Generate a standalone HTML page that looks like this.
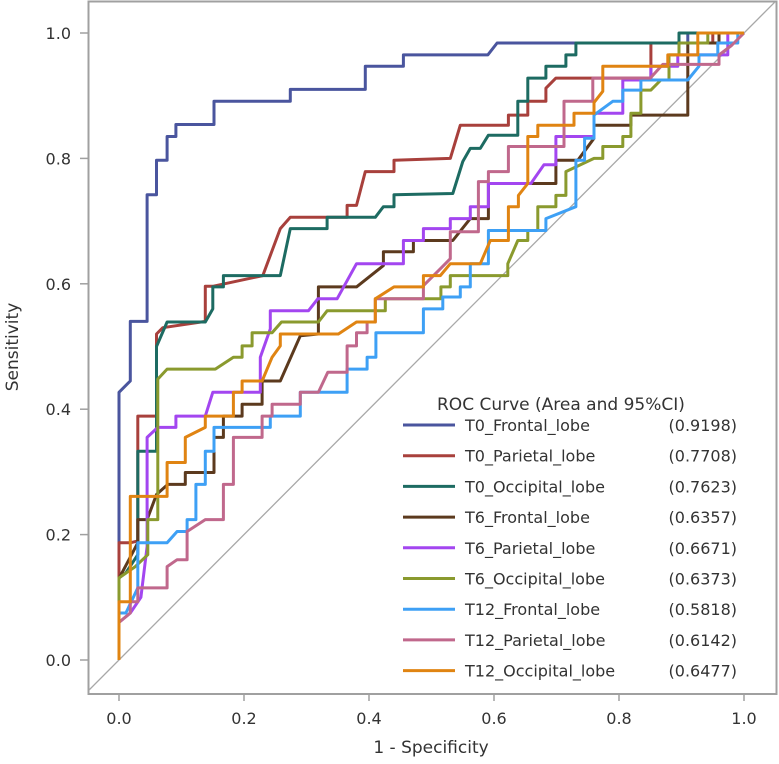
<!DOCTYPE html>
<html><head><meta charset="utf-8"><style>
html,body{margin:0;padding:0;background:#fff;}
svg{display:block;font-family:"DejaVu Sans","Liberation Sans",sans-serif;}
</style></head><body>
<svg id="chart" width="779" height="764" viewBox="0 0 779 764" xmlns="http://www.w3.org/2000/svg">
<g id="axes"></g>
<g id="series"></g>
<g id="legend"></g>
</svg>
<script>
const xTicks=[0,0.2,0.4,0.6,0.8,1.0];
const yTicks=[0,0.2,0.4,0.6,0.8,1.0];
const tickLabels=["0.0","0.2","0.4","0.6","0.8","1.0"];
const seriesNames=["T0_Frontal_lobe","T0_Parietal_lobe","T0_Occipital_lobe","T6_Frontal_lobe","T6_Parietal_lobe","T6_Occipital_lobe","T12_Frontal_lobe","T12_Parietal_lobe","T12_Occipital_lobe"];
const aucValues=["0.9198","0.7708","0.7623","0.6357","0.6671","0.6373","0.5818","0.6142","0.6477"];
const seriesColors=["#4a559e","#a8403c","#1d6b62","#5c3a1e","#a346f0","#8a9a2e","#3ea0f5","#c0688c","#e08412"];
const t0Frontal=[[0,0],[0,0.427],[0.018,0.445],[0.018,0.54],[0.045,0.54],[0.045,0.742],[0.06,0.742],[0.06,0.797],[0.077,0.797],[0.077,0.835],[0.091,0.835],[0.091,0.854],[0.152,0.854],[0.152,0.891],[0.274,0.891],[0.274,0.91],[0.394,0.91],[0.394,0.947],[0.455,0.947],[0.455,0.965],[0.59,0.965],[0.605,0.984],[0.91,0.984],[0.91,1],[1,1]];
const t0Parietal=[[0,0],[0,0.187],[0.018,0.187],[0.03,0.19],[0.03,0.389],[0.058,0.389],[0.06,0.389],[0.06,0.52],[0.07,0.53],[0.138,0.54],[0.138,0.596],[0.15,0.596],[0.23,0.613],[0.245,0.653],[0.258,0.688],[0.274,0.706],[0.365,0.706],[0.365,0.725],[0.38,0.725],[0.394,0.779],[0.44,0.779],[0.44,0.797],[0.53,0.8],[0.546,0.853],[0.623,0.853],[0.623,0.869],[0.654,0.869],[0.654,0.891],[0.683,0.891],[0.683,0.912],[0.699,0.928],[0.851,0.928],[0.851,0.984],[0.95,0.984],[0.95,1],[1,1]];
const t0Occipital=[[0,0],[0,0.131],[0.011,0.139],[0.03,0.168],[0.03,0.333],[0.06,0.333],[0.06,0.5],[0.077,0.539],[0.138,0.539],[0.15,0.56],[0.15,0.595],[0.167,0.595],[0.167,0.613],[0.258,0.613],[0.274,0.688],[0.333,0.688],[0.333,0.706],[0.41,0.706],[0.423,0.723],[0.44,0.723],[0.44,0.742],[0.534,0.744],[0.55,0.795],[0.562,0.816],[0.578,0.816],[0.591,0.837],[0.638,0.837],[0.638,0.891],[0.654,0.891],[0.654,0.928],[0.683,0.928],[0.683,0.947],[0.715,0.947],[0.715,0.965],[0.731,0.965],[0.731,0.984],[0.896,0.984],[0.896,1],[1,1]];
const t6Frontal=[[0,0],[0,0.13],[0.03,0.187],[0.03,0.224],[0.045,0.224],[0.06,0.264],[0.078,0.28],[0.106,0.28],[0.106,0.299],[0.152,0.299],[0.152,0.355],[0.167,0.355],[0.167,0.389],[0.197,0.389],[0.197,0.408],[0.229,0.408],[0.229,0.445],[0.258,0.445],[0.29,0.517],[0.319,0.52],[0.319,0.595],[0.38,0.595],[0.423,0.629],[0.423,0.651],[0.471,0.651],[0.471,0.669],[0.534,0.669],[0.562,0.704],[0.591,0.704],[0.591,0.76],[0.699,0.76],[0.699,0.797],[0.734,0.797],[0.76,0.832],[0.76,0.853],[0.819,0.853],[0.819,0.869],[0.91,0.869],[0.91,0.984],[0.96,0.984],[0.96,1],[1,1]];
const t6Parietal=[[0,0],[0,0.06],[0.018,0.075],[0.035,0.1],[0.045,0.181],[0.045,0.355],[0.062,0.371],[0.091,0.371],[0.091,0.389],[0.138,0.389],[0.15,0.427],[0.226,0.427],[0.226,0.483],[0.242,0.528],[0.242,0.557],[0.303,0.557],[0.318,0.576],[0.349,0.576],[0.38,0.632],[0.455,0.632],[0.455,0.669],[0.487,0.669],[0.487,0.688],[0.53,0.688],[0.53,0.704],[0.562,0.704],[0.562,0.723],[0.591,0.723],[0.591,0.76],[0.659,0.76],[0.68,0.79],[0.699,0.79],[0.699,0.835],[0.76,0.835],[0.76,0.872],[0.806,0.872],[0.806,0.925],[0.851,0.925],[0.851,0.947],[0.894,0.947],[0.894,0.965],[0.974,0.965],[0.974,1],[1,1]];
const t6Occipital=[[0,0],[0,0.131],[0.026,0.149],[0.046,0.168],[0.046,0.224],[0.062,0.224],[0.062,0.448],[0.077,0.464],[0.154,0.464],[0.183,0.483],[0.197,0.483],[0.197,0.501],[0.213,0.501],[0.213,0.522],[0.245,0.522],[0.26,0.539],[0.319,0.539],[0.333,0.557],[0.426,0.557],[0.426,0.576],[0.515,0.576],[0.515,0.595],[0.53,0.595],[0.53,0.613],[0.622,0.613],[0.622,0.632],[0.638,0.669],[0.654,0.669],[0.654,0.685],[0.67,0.685],[0.67,0.723],[0.699,0.723],[0.699,0.741],[0.715,0.741],[0.715,0.779],[0.76,0.8],[0.774,0.8],[0.774,0.819],[0.806,0.819],[0.806,0.835],[0.819,0.835],[0.819,0.872],[0.835,0.872],[0.835,0.909],[0.851,0.909],[0.867,0.925],[0.88,0.925],[0.88,0.965],[0.896,0.965],[0.896,0.984],[0.942,0.984],[0.942,1],[1,1]];
const t12Frontal=[[0,0],[0,0.075],[0.011,0.075],[0.03,0.115],[0.03,0.187],[0.077,0.187],[0.093,0.205],[0.109,0.205],[0.109,0.224],[0.123,0.224],[0.123,0.28],[0.138,0.28],[0.138,0.333],[0.152,0.333],[0.152,0.371],[0.242,0.371],[0.242,0.389],[0.29,0.389],[0.29,0.427],[0.365,0.427],[0.365,0.464],[0.397,0.464],[0.397,0.483],[0.411,0.483],[0.411,0.522],[0.487,0.522],[0.487,0.56],[0.518,0.56],[0.518,0.579],[0.546,0.579],[0.546,0.595],[0.562,0.595],[0.562,0.632],[0.591,0.632],[0.591,0.685],[0.683,0.685],[0.683,0.704],[0.731,0.723],[0.731,0.797],[0.745,0.797],[0.745,0.832],[0.76,0.832],[0.76,0.869],[0.79,0.891],[0.806,0.891],[0.806,0.909],[0.835,0.909],[0.835,0.925],[0.91,0.925],[0.928,0.947],[0.928,0.965],[0.958,0.965],[0.958,0.984],[0.99,0.984],[0.99,1],[1,1]];
const t12Parietal=[[0,0],[0,0.06],[0.018,0.075],[0.018,0.093],[0.03,0.093],[0.03,0.115],[0.077,0.115],[0.077,0.149],[0.093,0.16],[0.109,0.16],[0.109,0.205],[0.138,0.224],[0.167,0.224],[0.167,0.28],[0.183,0.28],[0.183,0.355],[0.229,0.355],[0.229,0.389],[0.245,0.389],[0.245,0.408],[0.29,0.408],[0.29,0.427],[0.319,0.427],[0.334,0.459],[0.365,0.459],[0.365,0.501],[0.38,0.501],[0.38,0.522],[0.397,0.522],[0.397,0.539],[0.41,0.539],[0.41,0.576],[0.487,0.576],[0.487,0.597],[0.514,0.624],[0.53,0.64],[0.53,0.683],[0.575,0.683],[0.575,0.763],[0.591,0.763],[0.591,0.779],[0.623,0.779],[0.623,0.819],[0.712,0.819],[0.712,0.891],[0.758,0.891],[0.758,0.928],[0.85,0.928],[0.87,0.95],[0.96,0.95],[0.96,0.965],[0.98,0.98],[1,1]];
const t12Occipital=[[0,0],[0,0.093],[0.018,0.093],[0.018,0.261],[0.077,0.261],[0.077,0.315],[0.106,0.315],[0.106,0.355],[0.138,0.371],[0.138,0.389],[0.183,0.389],[0.183,0.427],[0.197,0.427],[0.197,0.445],[0.229,0.445],[0.245,0.483],[0.258,0.501],[0.258,0.52],[0.351,0.52],[0.38,0.539],[0.41,0.539],[0.41,0.576],[0.44,0.595],[0.487,0.595],[0.487,0.613],[0.514,0.613],[0.53,0.632],[0.578,0.632],[0.594,0.669],[0.623,0.669],[0.623,0.723],[0.639,0.723],[0.639,0.741],[0.654,0.76],[0.654,0.835],[0.67,0.835],[0.67,0.853],[0.728,0.853],[0.728,0.872],[0.76,0.872],[0.76,0.889],[0.774,0.907],[0.774,0.947],[0.878,0.947],[0.878,0.965],[0.926,0.965],[0.926,1],[1,1]];
const allSeries=[t0Frontal,t0Parietal,t0Occipital,t6Frontal,t6Parietal,t6Occipital,t12Frontal,t12Parietal,t12Occipital];

const X0=119,XW=625,Y0=660,YH=627;
function sx(v){return X0+v*XW;}
function sy(v){return Y0-v*YH;}
const NS="http://www.w3.org/2000/svg";
function mk(tag,attrs,parent){const e=document.createElementNS(NS,tag);for(const k in attrs)e.setAttribute(k,attrs[k]);parent.appendChild(e);return e;}
const axes=document.getElementById('axes');
const frame=mk('rect',{x:88.5,y:1.5,width:688,height:692.5,fill:'none',stroke:'#a0a0a0','stroke-width':2},axes);


const cp=mk('clipPath',{id:'clip'},axes);
mk('rect',{x:89,y:2,width:687,height:692},cp);
const diag=mk('line',{x1:sx(-0.05),y1:sy(-0.05),x2:sx(1.06),y2:sy(1.06),stroke:'#a8a8a8','stroke-width':1.3,'clip-path':'url(#clip)'},axes);


xTicks.forEach((t,i)=>{
  const tk=mk('line',{x1:sx(t),y1:694,x2:sx(t),y2:701,stroke:'#a0a0a0','stroke-width':1.5},axes);
  
  
  const tx=mk('text',{x:sx(t),y:724,'text-anchor':'middle','font-size':16,fill:'#333'},axes);
  tx.textContent=tickLabels[i];
  
  
});
yTicks.forEach((t,i)=>{
  const tk=mk('line',{x1:80,y1:sy(t),x2:88,y2:sy(t),stroke:'#a0a0a0','stroke-width':1.5},axes);
  
  
  const tx=mk('text',{x:71,y:sy(t)+6,'text-anchor':'end','font-size':16,fill:'#333'},axes);
  tx.textContent=tickLabels[i];
  
  
});
const xt=mk('text',{x:431,y:753,'text-anchor':'middle','font-size':17,fill:'#333'},axes);
xt.textContent='1 - Specificity';


const yt=mk('text',{x:18,y:347,'text-anchor':'middle','font-size':17,fill:'#333',transform:'rotate(-90 18 347)'},axes);
yt.textContent='Sensitivity';



const sg=document.getElementById('series');
allSeries.forEach((pts,i)=>{
  const p=mk('polyline',{points:pts.map(d=>sx(d[0]).toFixed(1)+','+sy(d[1]).toFixed(1)).join(' '),fill:'none',stroke:seriesColors[i],'stroke-width':3,'stroke-linejoin':'round'},sg);
  
  
});

const lg=document.getElementById('legend');
const lt=mk('text',{x:437,y:410,'font-size':17,fill:'#333'},lg);
lt.textContent='ROC Curve (Area and 95%CI)';


seriesNames.forEach((n,i)=>{
  const y=425+i*30.7;
  const ln=mk('line',{x1:403,y1:y,x2:455,y2:y,stroke:seriesColors[i],'stroke-width':3},lg);
  
  
  const tx=mk('text',{x:465,y:y+6,'font-size':16,fill:'#333'},lg);
  tx.textContent=n;
  
  
  const tv=mk('text',{x:737,y:y+6,'font-size':16,fill:'#333','text-anchor':'end'},lg);
  tv.textContent='('+aucValues[i]+')';
  
  
});
</script>
</body></html>
